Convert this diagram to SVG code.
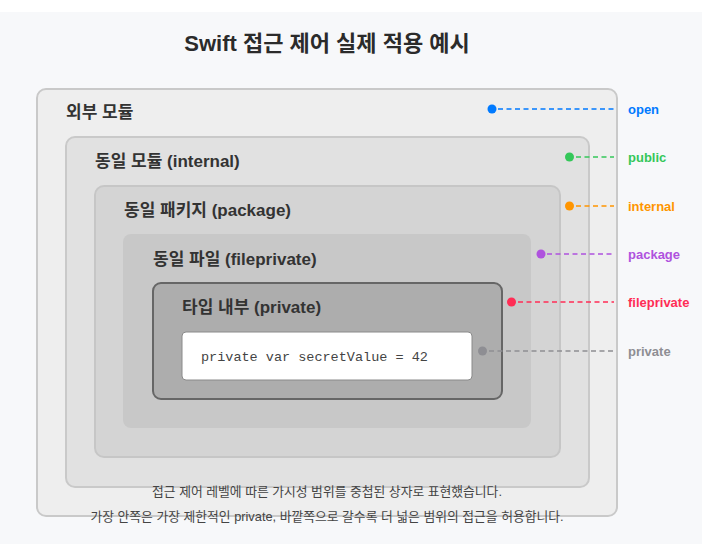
<svg xmlns="http://www.w3.org/2000/svg" width="702" height="558" viewBox="0 0 702 558">
<style>
  text { font-family: "Liberation Sans", "Noto Sans CJK KR", sans-serif; }
  .title { font-size: 22px; font-weight: bold; fill: #2b2b2b; text-anchor: middle; }
  .lbl { font-size: 17px; font-weight: bold; fill: #333; }
  .code { font-family: "Liberation Mono", "Noto Sans CJK KR", monospace; font-size: 13.5px; fill: #444; }
  .acc { font-size: 13px; font-weight: bold; }
  .note { font-size: 12.8px; fill: #444; text-anchor: middle; }
  .dash { stroke-width: 1.6; stroke-dasharray: 5 3.5; fill: none; }
</style>
<rect x="0" y="0" width="702" height="558" fill="#ffffff"/>
<rect x="0" y="12" width="702" height="532" fill="#f7f8fa"/>
<text class="title" x="327" y="51">Swift 접근 제어 실제 적용 예시</text>

<g id="outer-module">
  <rect x="37" y="89" width="580" height="427" rx="9" fill="#eeeeee" stroke="#c9c9c9" stroke-width="2"/>
  <text class="lbl" x="66" y="118">외부 모듈</text>
</g>
<g id="same-module">
  <rect x="66" y="137" width="523" height="350" rx="9" fill="#e1e1e1" stroke="#c9c9c9" stroke-width="2"/>
  <text class="lbl" x="95" y="167">동일 모듈 (internal)</text>
</g>
<g id="same-package">
  <rect x="95" y="186" width="465" height="271" rx="9" fill="#d4d4d4" stroke="#c6c6c6" stroke-width="2"/>
  <text class="lbl" x="124" y="216">동일 패키지 (package)</text>
</g>
<g id="same-file">
  <rect x="123" y="234" width="408" height="194" rx="8" fill="#c8c8c8"/>
  <text class="lbl" x="153" y="265">동일 파일 (fileprivate)</text>
</g>
<g id="type-inner">
  <rect x="153" y="283" width="349" height="116" rx="8" fill="#adadad" stroke="#666666" stroke-width="2"/>
  <text class="lbl" x="182" y="313">타입 내부 (private)</text>
</g>
<g id="code">
  <rect x="182" y="332" width="290" height="48" rx="4" fill="#ffffff" stroke="#8a8a8a" stroke-width="1"/>
  <text class="code" x="201" y="361">private var secretValue = 42</text>
</g>

<g id="connectors">
  <line class="dash" x1="498" y1="109" x2="614" y2="109" stroke="#007aff"/>
  <line class="dash" x1="576" y1="157" x2="614" y2="157" stroke="#34c759"/>
  <line class="dash" x1="576" y1="206" x2="614" y2="206" stroke="#ff9500"/>
  <line class="dash" x1="547" y1="254" x2="614" y2="254" stroke="#af52de"/>
  <line class="dash" x1="518" y1="302" x2="614" y2="302" stroke="#ff2d55"/>
  <line class="dash" x1="489" y1="351" x2="614" y2="351" stroke="#8e8e93"/>
</g>

<g id="level-open">
  <circle cx="492" cy="109" r="4.5" fill="#007aff"/>
  <text class="acc" x="628" y="114" fill="#007aff">open</text>
</g>
<g id="level-public">
  <circle cx="569.5" cy="157" r="4.5" fill="#34c759"/>
  <text class="acc" x="628" y="162" fill="#34c759">public</text>
</g>
<g id="level-internal">
  <circle cx="569.5" cy="206" r="4.5" fill="#ff9500"/>
  <text class="acc" x="628" y="211" fill="#ff9500">internal</text>
</g>
<g id="level-package">
  <circle cx="541" cy="254" r="4.5" fill="#af52de"/>
  <text class="acc" x="628" y="259" fill="#af52de">package</text>
</g>
<g id="level-fileprivate">
  <circle cx="511.5" cy="302" r="4.5" fill="#ff2d55"/>
  <text class="acc" x="628" y="307" fill="#ff2d55">fileprivate</text>
</g>
<g id="level-private">
  <circle cx="482.5" cy="351" r="4.5" fill="#8e8e93"/>
  <text class="acc" x="628" y="356" fill="#8e8e93">private</text>
</g>

<text class="note" x="327" y="496">접근 제어 레벨에 따른 가시성 범위를 중첩된 상자로 표현했습니다.</text>
<text class="note" x="327" y="521">가장 안쪽은 가장 제한적인 private, 바깥쪽으로 갈수록 더 넓은 범위의 접근을 허용합니다.</text>
</svg>
